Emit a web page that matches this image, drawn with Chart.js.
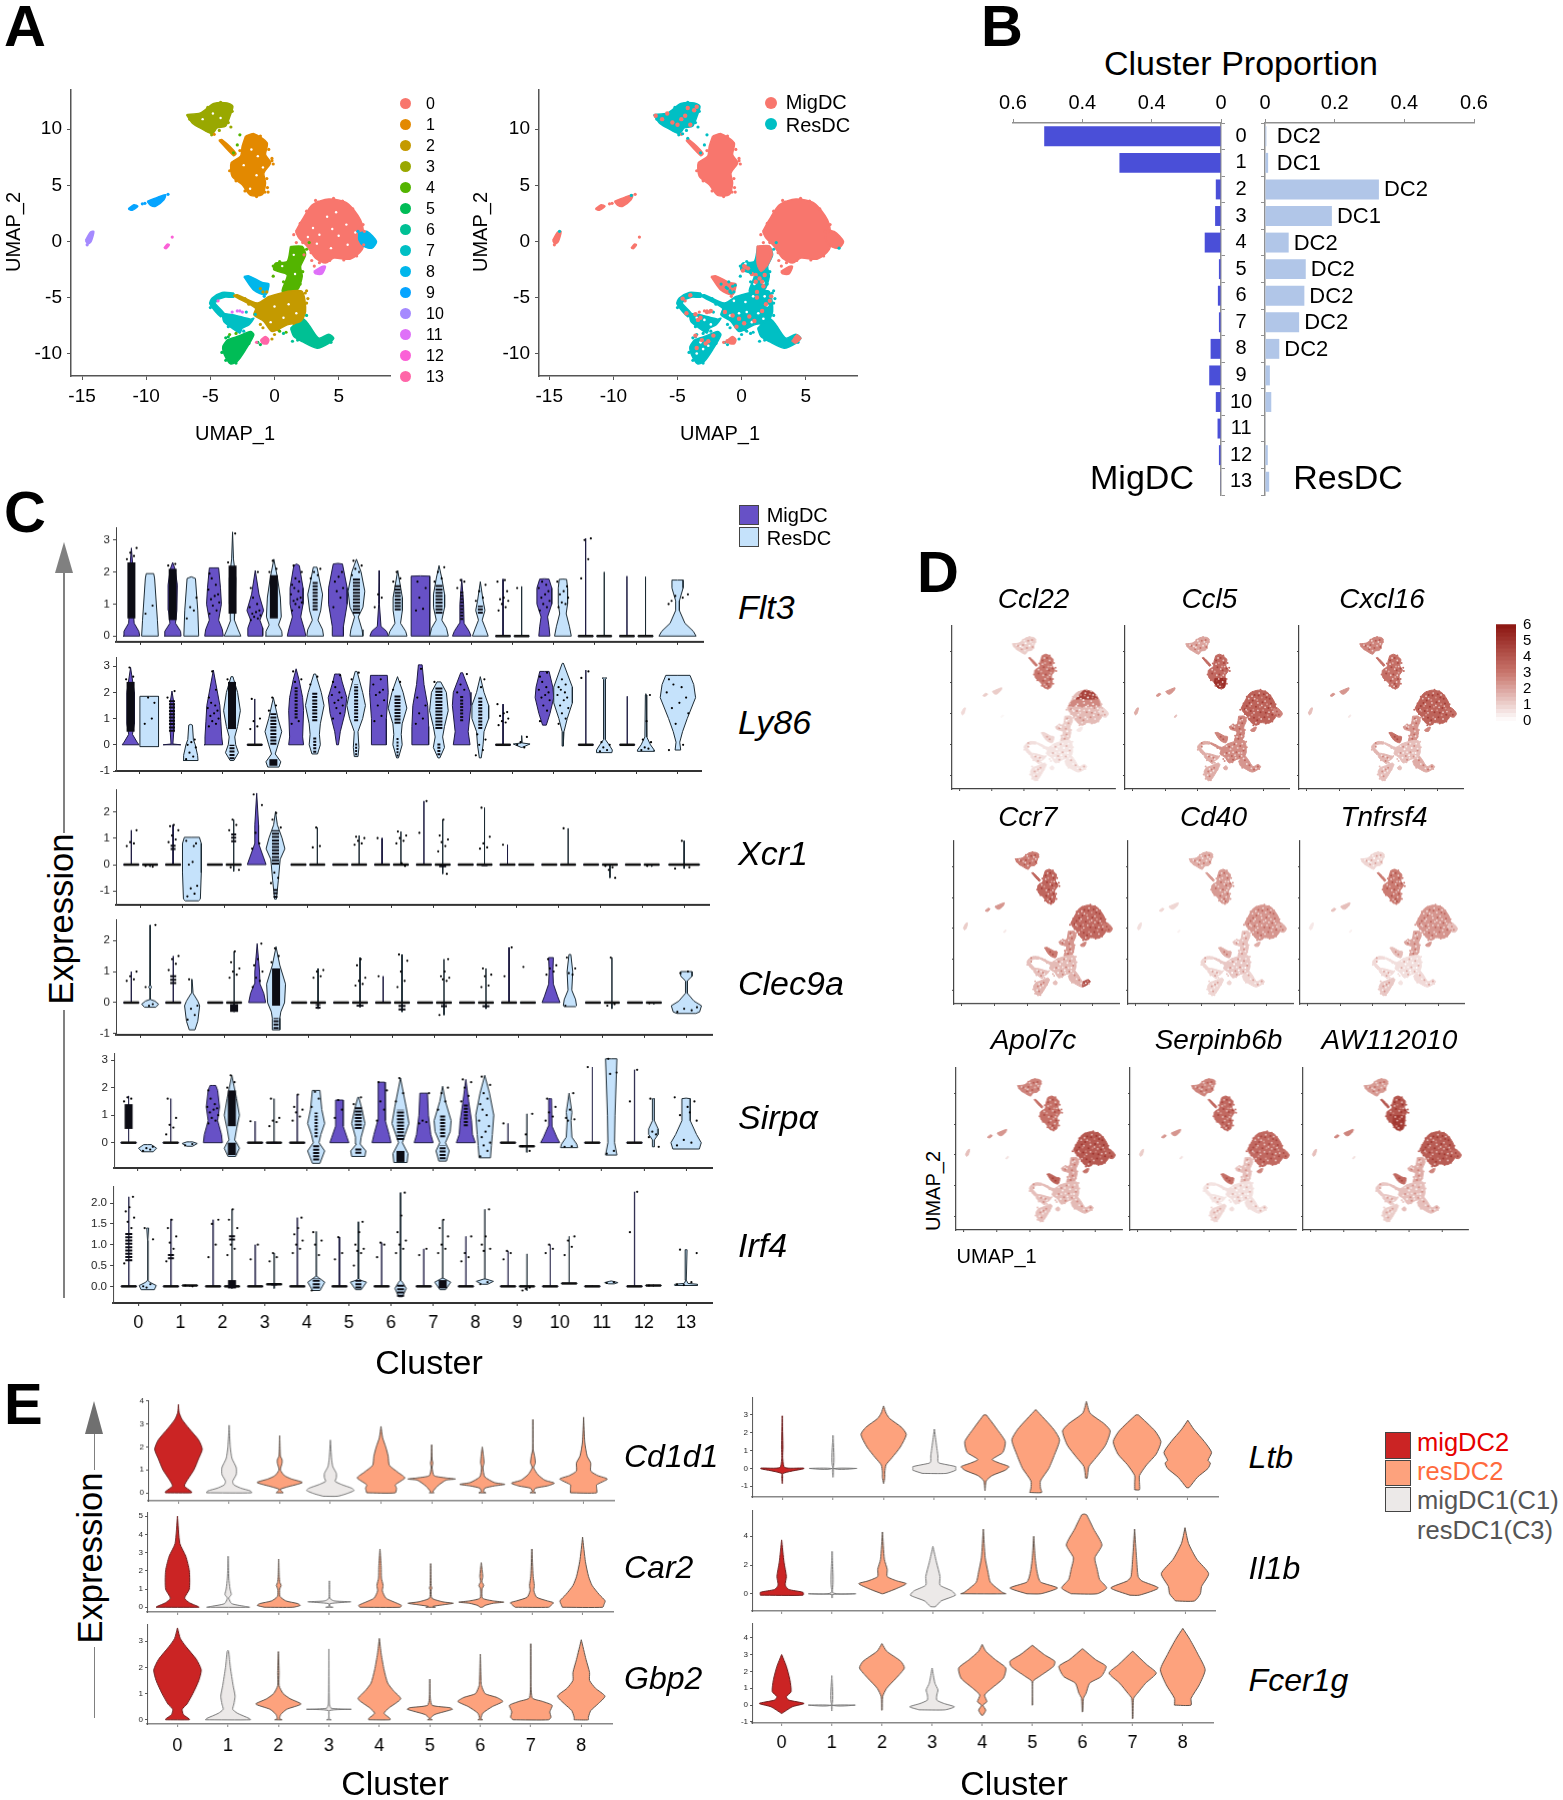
<!DOCTYPE html>
<html>
<head>
<meta charset="utf-8">
<title>DC clusters</title>
<script src="https://cdn.jsdelivr.net/npm/chart.js@4/dist/chart.umd.min.js"></script>
<style>
  html, body { margin: 0; background: #fff; }
  #page { position: relative; width: 1563px; height: 1800px; overflow: hidden; font-family: "Liberation Sans", Arial, sans-serif; color: #000; }
  #page canvas { position: absolute; }
  .t { position: absolute; white-space: nowrap; line-height: 1; }
  .d { position: absolute; }
</style>
</head>
<body>
<div id="page"></div>
<script>
// ---------- data: panel A / D, UMAP shapes (UMAP units) ----------
const clusterIds = [0,1,2,3,4,5,6,7,8,9,10,11,12,13];
const clusterColors = ['#F8766D','#E38900','#C49A00','#99A800','#53B400','#00BC56','#00C094','#00BFC4','#00B6EB','#06A4FF','#A58AFF','#DF70F8','#FB61D7','#FF66A8'];
const umapXTicks = [-15,-10,-5,0,5];
const umapYTicks = [-10,-5,0,5,10];

const shape0 = [1.64,.89,2.16,1.93,2.94,3.27,4.23,3.78,5.66,3.42,6.7,1.93,6.96,.45,6.83,-.74,5.92,-1.58,4.62,-1.49,3.97,-1.93,3.19,-1.49,2.55,-.45,1.9,.3];
const shape1 = [-2.26,9.38,-1.61,9.61,-.57,8.78,-.7,7.74,-.31,7,-.83,6.1,-.7,5.21,-.96,4.17,-1.87,4.11,-2.52,5.06,-3.3,5.8,-3.38,7,-2.65,7.59,-2.52,8.48];
const shape1Tail = [-4.34,9.02,-4.1,9.08,-3,7.85,-3.2,7.65];
const shape2 = [-.44,-4.91,.99,-4.46,2.16,-4.46,2.42,-6.25,2.03,-7.14,.99,-7.44,-.18,-8.04,-.83,-7.14,-1.61,-6.55,-1.48,-5.95,-3.17,-4.85,-2.91,-4.76,-1.35,-5.5];
const shape3 = [-6.86,11.3,-5.77,11.46,-4.73,12.29,-3.69,12.35,-3.25,12.05,-3.43,11.3,-3.82,10.27,-4.47,10.12,-4.86,9.6,-5.77,10.1,-6.42,10.57];
const shape4 = [1.25,-.45,2.16,-.45,2.42,-1.19,2.03,-2.23,2.16,-3.13,1.77,-4.32,.6,-4.46,.99,-2.98,-.05,-2.53,.08,-1.93,.99,-1.79];
const shape5 = [-3.69,-8.78,-2.91,-8.48,-1.87,-8.04,-1.61,-8.33,-2.26,-9.67,-2.91,-10.71,-3.43,-10.92,-3.9,-10.12,-4.03,-9.38];
const shape6 = [1.25,-7.74,2.16,-6.85,2.68,-7.44,3.45,-8.63,4.23,-8.27,4.62,-8.63,4.23,-9.08,3.32,-9.52,2.16,-8.93,1.51,-8.48];
const shape7Ring = [-3.17,-4.61,-4.08,-4.55,-4.86,-5.06,-5.04,-5.57,-4.21,-6.7,-3.9,-6.46,-4.6,-5.57,-4.6,-5.3,-3.9,-4.97,-3.17,-4.97];
const shape7 = [-4.08,-6.4,-3.17,-6.55,-1.87,-6.93,-1.61,-6.85,-2,-7.44,-2.52,-7.74,-2.7,-8.18,-3.3,-7.74,-3.95,-7.14];
const shape8Right = [6.57,.74,7.22,.89,7.95,0,7.6,-.6,6.96,-.45,6.57,.15];
const shape8Low = [-2.39,-3.13,-2,-3.07,-.96,-3.66,-.44,-3.78,-.7,-4.76,-1.61,-4.35];
const shape9 = [-9.92,3.57,-9.14,3.93,-8.49,4.17,-8.62,3.72,-9.27,3.13,-9.66,3.21];
const shape9Left = [-11.4,2.89,-10.96,3.27,-10.65,3.13,-11.09,2.77];
const shape10 = [-14.73,.09,-14.34,.83,-14.08,.89,-14.29,0,-14.55,-.24];
const shape11 = [3.06,-2.68,3.71,-2.23,3.97,-2.23,3.71,-2.89,3.19,-2.89];
const shape12 = [-8.62,-.6,-8.36,-.24,-8.2,-.3,-8.44,-.65];
const shape13 = [-1.09,-8.78,-.7,-8.48,-.44,-8.78,-.57,-9.14,-.96,-9.08];
const shapeOutlines = [shape7Ring,shape7,shape6,shape5,shape4,shape2,shape3,shape1,shape1Tail,shape0,shape8Right,shape8Low,shape9,shape9Left,shape10,shape11,shape12,shape13];
const shapeClusters = [7,7,6,5,4,2,3,1,1,0,8,8,9,9,10,11,12,13];

// stray cells per cluster
const strayCells = [
  [3.2,3.65,1.7,-.1,2.9,-1.7,2.3,-1.2,3.1,-2.2],
  [-4.7,9.55,-.75,4.4,-.5,4.4,-.2,7.2],
  [2.5,-4.4,2.6,-5.1,-.2,-8.7,0,-8.3,-.9,-4.5,-.6,-4.5,-1.1,-4.2],
  [-4.9,9.5,-3.4,10.2,-4.3,9.9],
  [-2.7,9.5,-2.9,8.6,-3.2,7.9,-3.5,-8.3,-3,-8.2,-.1,-3.1,.9,-8.1,.4,-8,2.7,-.1],
  [-1.3,-9,-1.1,-9.2,-3.6,-8.5],
  [1.4,-8.9,.7,-8.2,2.5,-6.6],
  [-1.5,-6.5,-4.5,-5.3,-2.2,-6.3],
  [6.5,.9,-.8,-4.9],
  [-10.3,3.35,-10.1,3.4,-8.3,4.2],
  [-14.6,-.3],
  [-2.9,-6.2,-2.7,-6.2,-2.5,-6.3,-3.3,-6.3],
  [-7.97,.39,-4.4,-5.3],
  [-1.4,-9]
];
// cells along the rough rim of the big clusters
const edgeCells = [
  [1.5,.6,2,1.6,2.5,2.7,3.4,3.5,4.6,3.85,5.3,3.6,6.1,2.9,6.9,1.5,7,.9,6.95,-.3,6.4,-1.3,5.4,-1.65,4.3,-1.7,3.5,-1.9,2.85,-1,2.2,-.1],
  [-2.7,8.1,-1.1,9.4,-.45,8.2,-.2,7.4,-.1,6.9,-.6,5.6,-.55,4.8,-1.4,4,-2.3,4.5,-3,5.4,-3.5,6.3],
  [-.9,-7.7,.3,-7.9,1.5,-7.3,2.5,-5.5,2.4,-4.6,-2.3,-5.1,-2,-5.6,-1.1,-7.4],
  [-6.6,10.9,-6.1,10.4,-5.2,9.9,-3.6,10.6,-3.3,11.6,-4.2,12.4,-5.2,11.95],
  [2.5,-.7,2.2,-2.7,2,-3.8,.7,-3.6,-.1,-2.2,.4,-1.8],
  [-4.1,-9.9,-3.8,-8.6,-2,-9.1,-3,-10.85,-3.8,-10.6],
  [2.7,-8,3,-9.2,1.8,-8.8,4.4,-9],
  [-5,-5.9,-4.5,-6.2,-3.6,-7.6,-2.4,-8],
  [],[],[],[],[],[]
];
// darker and paler cells inside the clusters
const darkSpots = [
  [2.5,1.2,3.1,.4,3.4,2.1,3.9,1.1,4.3,2.9,4.6,.2,4.9,1.8,5.2,-.6,5.5,2.6,5.8,.9,6.2,1.6,6.4,-.2,3.6,-.7,4.1,-1.1,2.9,1.7,5.1,3.1,3.7,3,6,2.4,2.2,.7,5.4,.1],
  [-2.2,8.6,-1.5,9,-1,8.2,-2,7.5,-1.2,7,-.6,7.3,-2.8,6.5,-1.7,6.3,-1,5.6,-1.5,4.8,-2.1,5.3,-1.3,4.4],
  [-.2,-5.4,.6,-5,1.5,-5.3,2,-6,.9,-6.3,.2,-6.9,1.4,-7,-.6,-6.4,.4,-7.5],
  [-6,11,-5.2,11.1,-4.4,11.8,-3.8,11.9,-4.6,10.6,-5.4,10.4,-3.7,10.8],
  [1.6,-.8,1.8,-1.6,1.4,-2.5,.4,-2.4,1.5,-3.4,1.2,-4.1],
  [-3.4,-9.4,-2.9,-9.1,-3.2,-10.2,-2.5,-8.8],
  [2.2,-7.6,2.9,-8.4,3.6,-9.1,4.2,-8.6],
  [-3.3,-7,-2.6,-7.2,-4.4,-5.4,-4.4,-4.8,-2.9,-7.7],
  [7.1,.3,7.4,-.2,-1.5,-3.8,-1.1,-4.2],
  [],[],[],[],[]
];
const paleSpots = [
  [3,1.2,3.5,.6,4.1,2.2,4.5,1.1,5,.5,5.6,1.5,5.7,-.3,4.4,-.6,3.3,-.2,4.8,2.6,6.3,.8,2.6,.4],
  [-1.8,8.2,-1.3,7.6,-2.4,6.8,-1.4,5.9,-1.9,4.7,-.9,6.6],
  [0,-5.8,1.1,-5.6,.7,-6.8,1.7,-6.4,-.3,-7.2],
  [-5.6,10.9,-4.8,11.4,-4.2,11],
  [1.5,-1.2,1.6,-2.9,.6,-2.2],
  [],[],[],[],[],[],[],[],[]
];
// near white cells for the expression maps
const lightSpots = [
  [2.4,.6,2.8,2.4,3.2,1.5,3.7,2.4,3.6,.1,4.2,1.7,4.2,.5,4.8,1.3,4.7,-.9,5.3,2,5.3,1,5.9,.2,6.1,1.2,5.9,-.9,3.3,2.8,4.4,3.3,5.6,3,2.9,-.6,3.9,-1.5,6.5,.3],
  [-1.9,9,-1.1,8.6,-2.2,8,-1.5,7.2,-.9,7.6,-2.8,7.1,-2.1,6.2,-1.1,6.2,-1.8,5.6,-1.2,5.1,-1.6,4.4],
  [-.6,-5.3,.3,-5.4,.9,-4.9,1.8,-4.9,2,-5.7,.4,-6.3,1.3,-6.4,-.9,-6.6,.8,-7.2,-.2,-6.4,1.7,-6.9],
  [-6.2,11.1,-5.3,10.7,-4.9,10.2,-4,11.6,-3.7,11.3,-5,11.8],
  [1.8,-1,1.3,-1.9,.3,-2,1.7,-3.7,1,-3.8],
  [-3.2,-9,-3,-9.6,-3.5,-10,-2.6,-9.3],
  [2,-7.3,2.5,-8.2,3.2,-8.9,3.9,-8.9],
  [-3.5,-6.8,-2.9,-7,-2.4,-7.4],
  [],[],[],[],[],[]
];
// MigDC / ResDC view
const clusterIsMig = [1,1,0,0,0,0,0,0,1,1,1,1,1,1];
const migPatches = [[1.2,-.4,2.2,-.4,2.4,-1.2,2,-2.2,1.5,-2.7,1.2,-2],[3.9,-8.9,4.3,-8.3,4.65,-8.65,4.2,-9.1]];
const migOnRes = [-6.7,11.2,-6.2,10.9,-5.8,11.4,-5,10.4,-4.7,10.9,-4.4,11.2,-4.2,11.9,-3.7,11.7,-3.5,12,-5.4,10.6,-4,10.4,-1.3,-6.3,-.7,-6.6,-.2,-6.9,.2,-7.3,.6,-6.7,1,-7.1,1.6,-6.2,1.9,-5.6,-.4,-7.6,1.2,-5,2.3,-4.9,-3.6,-8.4,-3.1,-8.8,-2.8,-9.1,-2.2,-8.4,-3.5,-9.5,-3.2,-6.8,-2.7,-6.3,-2.4,-6.2,-3.6,-6.5,-3.4,-7,-4.6,-5.1,-4,-4.8,-4.3,-6.4,-2.6,-8.9,-.8,-8.9,-1.1,-8.9,.3,-2.3,1.6,-3.6,2.2,-5.3,.2,-2.2,.5,-2.4,.1,-2.6,.8,-2.9,1.1,-3,1.4,-3.3,1.8,-3,1.1,-3.6,1.7,-4,1.2,-4.5];
const resOnMig = [-4.6,9.6,-4.2,9.2,7.6,-.6,-8.6,4.1,-14.2,.9,.7,-2.8,1.1,-3.2,-1.6,-3.8,-1.2,-4.1,-.9,-4.4,-.7,-4,-.5,-3.9,-1,-3.6,-.8,-4.6];

// ---------- data: panel B ----------
const migShare = [.51,.293,.015,.017,.047,.006,.009,.006,.03,.034,.015,.01,.006,.001];
const resShare = [.004,.009,.327,.192,.068,.117,.113,.098,.041,.014,.018,.001,.008,.012];
const resTypes = ['DC2','DC1','DC2','DC1','DC2','DC2','DC2','DC2','DC2','','','','',''];
const shareTicks = [0,.2,.4,.6];
const migShareLabels = ['0','0.4','0.4','0.6'];
const resShareLabels = ['0','0.2','0.4','0.6'];

// ---------- data: panel C, violins as y,width knots ----------
// s(top, bottom, flat): a thin spike with a flat bar where most cells sit
function s(top, bot = 0, flat = 0) {
  const k = [];
  if (bot < flat) k.push(bot,.01,flat-.001,.01);
  k.push(flat,.85,flat+.001,.01,top,0);
  k.flat = flat;
  return k;
}
const flt3Mig = [
  [0,.9,.15,.8,.4,.3,.6,.25,2,.2,2.75,0],[0,.9,.15,.85,.4,.3,.8,.45,1.6,.5,2.1,.25,2.3,0],[0,1,.2,.9,.5,.5,1,.8,1.5,.7,2.13,.5,2.13,0],[0,.8,.25,.8,.5,.5,.8,.9,1.3,.4,2.05,0],
  [0,1,.2,.85,.6,.45,1,.7,1.5,.7,2.2,.3,2.25,0],[0,.6,.3,.6,1,1,1.5,1,2.25,.5,2.27,0],[0,1,.15,.8,.3,.2,1,.05,2.05,0],[0,1,1,1,1.87,1,1.88,0],
  [0,1,.15,.8,.4,.25,1,.2,1.78,0],s(1.78),[0,.6,.3,.5,.6,.35,1,.8,1.5,.8,1.78,.5,1.79,0],s(3.05),s(1.87),null];
const flt3Res = [
  [0,.9,.5,.8,1.8,.5,1.95,.4,1.95,0],[0,.8,.8,.7,1.8,.45,1.85,0],[0,.9,.2,.6,.5,.2,.8,.25,1,.3,1.8,.35,2.4,.1,3.25,0],[0,.9,.15,.85,.35,.5,.6,.8,1.2,.7,1.8,.4,2.4,0],
  [0,.9,.2,.8,.5,.3,.8,.6,1.3,.8,1.7,.5,2.15,.2,2.15,0],[0,.7,.2,.6,.6,.2,.9,.7,1.4,.9,2,.5,2.4,0],[0,1,.15,.85,.4,.3,.8,.5,1.2,.5,2.05,0],[0,1,.25,.8,.5,.3,.9,.6,1.3,.6,1.8,.3,2.2,0],
  [0,.85,.2,.6,.5,.2,.8,.5,1.1,.3,1.7,0],s(1.55),[0,.9,.3,.7,.7,.35,1,.5,1.5,.5,1.77,.4,1.78,0],s(2),s(1.85),[0,1,.15,.85,.4,.4,.8,.1,1.1,.1,1.5,.3,1.75,.3,1.75,0]];
const flt3MigDots = [
  [[.55,2.3,8],2.4,2.5,2.6,2.75],[[.5,2.1,8],2.2,2.25],[.7,.8,.95,1.05,1.15,1.25,1.3,1.45,1.6,1.8,1.95],[.5,.55,.6,.65,.7,.75,.8,.9,1,1.2,1.5,2],
  [.8,.9,1,1.05,1.1,1.15,1.2,1.3,1.4,1.5,1.6,1.7,1.8,2,2.2],[.9,1.2,1.4,1.5,1.7,1.85,2],[.9,1.2,1.3],[.8,.85,1.2,1.5,1.7],
  [[.5,1.4,3],1.5,1.7,1.75],[.8,.9,1,1.1,1.15,1.2,1.4,1.7,1.75],[.8,.9,1,1.1,1.2,1.3,1.4,1.5,1.6,1.7],[1.8,2.4,3,3.05],[],null];
const flt3ResDots = [
  [.7,.95],[.55,.8,.9,1.2],[[.7,2.2,8],2.3,3.2],[[.55,1.9,8],2,2.1,2.35],[[.8,1.7,5],1.8,1.9,2,2.1],[[.7,1.8,7],1.9,2,2.1,2.2,2.35],[[.8,1.6,6],1.7,1.8,2],[[.7,1.6,7],1.7,1.8,2,2.15],
  [[.7,.95,5],1.1,1.2,1.4,1.6],[1.5],[.9,1,1.05,1.2,1.3,1.4,1.55,1.7],[],[],[1,1.2,1.25,1.3,1.1]];

const ly86Mig = [
  [0,.9,.1,.7,.4,.2,.8,.4,2,.4,2.95,0],[0,.95,.03,.1,.55,.2,1.6,.2,2.05,0],[0,1,.3,.9,.9,.8,1.5,.7,2.85,0],s(1.75),
  [0,.8,.3,.7,1.3,.8,1.8,.7,2.5,.3,2.9,0],[0,.1,.5,.3,1.2,.8,1.8,1,2.4,.5,2.7,.3,2.7,0],[0,.8,1,.8,2,1,2.65,.9,2.65,0],[0,.9,.7,.9,1.5,.8,2.3,.4,3.05,.2,3.05,0],
  [0,.9,.5,.7,1.5,1,2,.9,2.75,.1,2.75,0],s(1.55),[.75,.2,1.2,.6,1.8,1,2.2,.9,2.8,.5,2.8,0],s(2.85),s(1.85),null];
const ly86Res = [
  [-.07,1,1.85,1,1.85,0],[-.6,.8,-.4,.75,0,.5,.2,.3,.75,.2,.78,0],[-.6,.2,-.3,.7,0,.4,.3,.3,.7,.6,1.3,.9,2,.6,2.6,.1,2.6,0],[-.85,.6,-.65,.8,-.35,.2,0,.5,.5,.9,1,.5,1.8,0],
  [-.35,.3,0,.6,.4,.5,.8,.6,1.5,1,2,.7,2.7,.1,2.7,0],[-.45,.2,-.1,.3,.5,.2,1,.7,1.5,1,2,.7,2.8,.1,2.8,0],[-.5,.1,0,.5,.4,.4,.8,.5,1.4,1,2,.6,2.6,0],[-.5,.1,-.1,.6,.3,.4,.7,.6,1.3,1,2,.8,2.4,.2,2.4,0],
  [-.5,.1,0,.3,.5,.4,1,.9,1.5,.9,2,.4,2.6,0],[-.1,.05,.03,.9,.07,.05,.35,0],[-.05,.02,.5,.1,1,.45,1.6,1,2.2,1,3.1,.1,3.12,0],[-.3,.8,-.2,.85,0,.5,.2,.1,2.5,.1,2.55,.25,2.55,0],
  [-.25,.9,-.2,.9,0,.5,.3,.1,1.9,.05,1.95,0],[-.2,.15,.1,.1,.5,.25,1,.5,1.8,.95,2.3,.85,2.65,.65,2.65,0]];
const ly86MigDots = [
  [[.5,2.4,8],2.5,2.6,2.95],[[.5,1.7,6],1.8,2.05],[.7,.8,.9,1,1.1,1.2,1.3,1.4,1.5,1.6,1.8,2.1,2.8],[.6,.7,.9,1,1.75],[[1,2.2,3],.8,.9,2.4,2.5,2.8],[1,1.2,1.4,1.5,1.6,1.7,1.8,1.9,2,2.2,2.4,2.65],[.9,1.1,1.5,1.7,1.9,2,2.1,2.3,2.5],[.8,1,1.2,1.5,1.8,2.9],
  [[.9,1.9,3],2,2.1,2.3,2.7],[.75,.85,.9,1,1.1,1.2,1.25,1.55],[.9,1.3,1.5,1.7,1.8,1.9,2,2.1,2.2,2.4,2.6,2.75],[2.55,2.8],[],null];
const ly86ResDots = [
  [.8,1,1.8,1.6],[-.55,-.45,-.3,-.1,0,.1,.2],[[.6,2.4,8],[-.55,0,5],2.5],[[-.8,-.55,8],[0,1.2,6],1.3,1.5,1.8],[[.9,2,5],[-.3,.3,3],2.3,2.6],[[.9,2.3,4],[-.4,.1,2],2.5,2.75],[[.8,1.9,6],[-.45,.3,2],2.1,2.4],[[.6,2.2,7],[-.4,.1,3],2.4],
  [[.6,1.8,4],-.4,-.2,0,.2,.4,2.2,2.5],[0,-.1,.1,.3],[.8,1,1.2,1.4,1.5,1.7,1.8,1.9,2,2.1,2.2,2.3,2.5],[-.25,-.2,-.1,0,.1],[-.2,-.15,-.1,.1,.2,.9,1.9],[-.2,0,.8,1.2,1.4,1.6,1.8,2,2.2,2.3,2.5]];

const xcr1Mig = [s(1.3),s(1.5),s(.03),[0,1,.3,.7,.8,.2,1.5,.2,2.7,0],s(.03),s(.03),s(1),s(2.4),s(.03),s(.75),s(.03),s(.03),s(.03),null];
const xcr1Res = [
  s(.03,-.08),[-1.37,.7,-1.3,.9,-.3,1,.8,1,1.03,.8,1.03,0],s(1.7,-.25),[-1.3,.1,-.6,.3,.2,.5,.6,1,1,.7,1.5,.2,2,0],s(1.4),s(1.1),s(1.25),s(1.7,-.35),
  s(2.15),s(.03),s(1.37),s(.03,-.5),s(.03,-.08),s(.9,-.15)];
const xcr1MigDots = [[.7,.8,.85,1.3],[[.55,.75,5],.85,.95,1.1,1.3,1.45,1.5],[],[.6,.8,1.2,2.25,2.65],[],[],[1],[1.2,2.4],[],[.75],[],[],[],null];
const xcr1ResDots = [[-.05,-.08],[-1.2,-1.1,-.9,-.8,0,.1,.8,.9,.7],[[.85,1.2,5],1.3,1.5,1.7,-.2,-.1],[[0,1.3,7],[-1.25,-.9,4],-.7,-.5,-.3,1.4,1.7,1.95],[.65,.7,1.4],[.75,.8,.9,1,1.05],[.8,.9,1,1.1,1.25,.05,-.05],[[-.1,-.02,7],.5,.7,.85,.95,1.1,1.7,-.35],
  [[-.06,-.02,6],.6,.65,.8,1.05,2.15],[],[1.37],[-.05,-.1,-.2,-.5],[-.05],[-.15,-.1,.9]];

const clec9aMig = [s(1),s(1.5),s(.03),[0,.9,.3,.7,.6,.3,1,.25,1.9,0],s(.03),s(.03),s(.85),s(.03),s(.03),s(1.78),[0,.95,.2,.7,.6,.25,1,.2,1.45,.25,1.45,0],s(.03),s(.03),null];
const clec9aRes = [
  [-.15,.6,-.05,.9,.05,.5,.1,.02,.45,.02,.5,.2,.55,.02,2.5,0],[-.88,.3,-.6,.6,-.1,.8,.05,.6,.3,.1,.75,.05,.75,0],s(1.65,-.3),[-.88,.4,-.5,.4,-.3,.5,0,.9,.6,1,1.2,.4,1.8,0],
  s(1.1,-.2),s(1.45,-.15),s(1.55,-.3),s(1.4,-.4),s(1.1,-.2),s(.03),[-.13,.6,-.1,.7,.1,.6,.4,.2,1,.3,1.55,.1,1.55,0],s(1.45,-.2),s(.03,-.05),[-.35,.5,-.3,.7,-.1,.8,.05,.4,.3,.05,.7,.05,.85,.3,1,.3,1,0]];
const clec9aMigDots = [[.7,.75,.85,1],[[.6,.9,6],1.05,1.25,1.4,1.5],[],[.5,.7,.8,1,1.2,1.4,1.9],[],[],[.85],[],[],[.85,1.78],[.9,1,1.1,1.2,1.4],[],[],null];
const clec9aResDots = [[.5,-.05,-.1,2.5],[-.55,-.4,-.2,-.1,.75],[[-.3,-.05,8],.8,.9,1,1.1,1.3,1.65],[[-.85,-.5,5],[-.1,1.1,8],1.3,1.5,1.75],[[-.2,-.05,5],.8,.85,1,1.05],[[-.13,-.07,7],.55,.6,.7,.8,1.2,1.4],[[-.25,-.05,7],.5,.7,1,1.35,1.55],[[-.15,-.02,6],-.4,.7,.75,.8,.85,1,1.4],
  [[-.15,-.05,7],.5,.55,.85,.9,1.1],[1.15],[-.1,.9,.95,1.1,1.45],[-.1,-.05,1.45],[-.02],[-.3,-.25,-.2,-.15,.95,1]];

const sirpaMig = [s(1.7),s(1.6),[0,1,.3,.9,.8,.5,1.3,.7,1.9,.5,2.08,.3,2.08,0],s(.78),s(1.75),[0,1,.2,.8,.6,.4,1.55,.4,1.55,0],[0,1,.3,.8,.8,.4,2.2,.35,2.2,0],[0,1,.3,.75,1,.5,1.8,.4,1.8,0],
  [0,1,.3,.7,.8,.6,1.5,.3,2.3,0],s(.7),[0,1,.2,.7,.6,.2,1.6,.15,1.6,0],s(2.75),s(2.65),null];
const sirpaRes = [
  [-.33,.6,-.2,.95,-.07,.4,-.07,0],[-.13,.3,-.03,.8,.03,.3,.03,0],[-.5,.4,-.2,.8,0,.5,.1,.3,.5,.5,1,.8,1.6,.5,2.45,0],s(1.6),
  [-.75,.4,-.3,.9,0,.3,.3,.5,.7,.9,1.2,.6,1.9,.4,1.9,0],[-.5,.7,-.3,.8,-.05,.2,.2,.3,.7,.7,1.2,.4,1.65,.05,1.65,0],[-.72,.7,-.4,.8,0,.2,.3,.5,.7,.9,1.3,.6,2.35,0],[-.67,.4,-.3,.7,0,.3,.4,.8,.8,.9,1.5,.3,2.05,0],
  [-.55,.6,-.1,.7,.3,.8,1,.95,1.8,.5,2.45,0],s(1.05,-.35,-.13),[-.18,.9,-.05,.8,.2,.3,.8,.2,1.1,.3,1.8,0],[-.45,.6,0,.35,1,.4,3.05,.6,3.05,0],[-.15,.1,.1,.1,.3,.5,.5,.5,.8,.1,1.6,.1,1.6,0],[-.23,.7,0,.8,.3,.55,.8,.22,1.6,.22,1.62,0]];
const sirpaMigDots = [[[.5,1.4,8],1.5,1.6,1.65],[.3,.55,.65,.9,1.6],[.7,.8,.9,1,1.1,1.2,1.25,1.3,1.4,1.6,1.9],[.78],[.8,.95,1.1,1.2,1.3,1.75],[.9,1.2,1.55],[.8,1.2,1.5,1.9,2.2],[.7,.75,.8,1.8],
  [[.6,1.4,4],1.5,1.7,2,2.2,2.3],[.7],[.8,.95,1.1,1.3,1.6],[2.75],[1.5,2.65],null];
const sirpaResDots = [[-.3,-.25,-.2,-.15],[-.1,-.05],[[-.45,0,8],[.6,1.9,8],2,2.2,2.45],[[-.03,.03,7],.6,.75,.8,.9,1.6],[[-.65,-.05,6],[.2,1.1,3],1.3,1.6,1.85],[[-.4,-.2,6],[.5,1.3,7],1.4,1.65],[[-.7,-.3,8],[.1,1.2,7],1.5,1.8,2.35],[[-.6,-.1,6],[.2,1,5],1.2,1.5,1.8,2],
  [-.5,-.3,-.1,0,.2,.4,.6,.8,1,1.2,1.4,1.6,1.8,2.1,2.4],[-.13,-.3,.3,1.05],[-.15,-.13,.8,.85,.9,1.2,1.8],[-.4,-.3,2.5,2.55,3.05],[.2,.3,.4,-.15,1.6],[-.1,0,.1,.8,1,1.3,1.5,1.65,1.1]];

const irf4Mig = [s(2.15),s(1.62),s(1.6),s(1),s(1.65),s(1.18),s(1.05),s(.9),s(1.2),s(.85),s(1),s(.02),s(2.27),null];
const irf4Res = [
  [-.08,.7,.02,.9,.1,.2,.15,.01,1.1,.01,1.4,.1,1.4,0],s(.03,0,.02),s(1.85,-.05),s(.8,-.05,.05),[-.1,.4,.1,.9,.2,.3,.25,.01,1.32,0],[-.08,.3,.1,.85,.15,.2,.2,.01,1.55,0],[-.25,.2,-.05,.6,.1,.2,.15,.01,2.25,0],[-.08,.3,.1,.85,.18,.2,.2,.01,1.6,0],
  [.05,.3,.12,.9,.17,.2,.18,.01,1.85,0],s(.78,-.1),s(1.2,.06,.07),[.06,.3,.09,.7,.12,.2,.13,0],s(.04,0,.02),[.02,.6,.05,.6,.07,.1,.15,.01,.88,.05,.88,0]];
const irf4MigDots = [[[.6,1.3,7],.55,1.4,1.55,1.65,1.8,1.9,2.15],[[.65,.8,6],.6,.9,1.05,1.2,1.4,1.6],[.7,1,1.5,1.6],[.65,1],[.8,.9,1,1.1,1.25,1.4,1.65],[.65,.8,1.18],[.7,1,1.05],[.75,.9],[.6,.7,.8,1.2],[.65,.8,.85],[.8,.9,1],[],[1.3,2.27],null];
const irf4ResDots = [[0,.05,-.03,1.13,1.4],[.02,0],[[-.05,.15,8],[1.1,1.25,6],.75,.9,1,1.4,1.6,1.85],[[.02,.08,6],.6,.7,.8],[[-.05,.2,7],-.1,.75,1,1.1,1.3],[[-.05,.15,6],.5,.8,.85,.9,1,1.3,1.55],[[-.25,.05,7],.8,.9,1,1.1,1.3,1.7,2.25],[[-.05,.15,8],.8,.9,1,1.2,1.4,1.6],
  [.05,.1,.85,.9,1,1.2,1.85],[-.1,-.03,-.06],[.75,.95,1.1,1.2],[.08,.1],[.02],[.05,.1,.03,.8,.88]];

// ---------- data: panel D, mean expression per cluster ----------
const ccl22Expr   = [1.5,3,.6,1.1,1.1,.7,.6,.7,.9,1.1,.8,.5,.2,.5];
const ccl5Expr    = [3.6,3.4,2.5,2,2.7,1.8,2.3,1.8,2.7,2.3,1.8,2.7,1.4,1.8];
const cxcl16Expr  = [3.6,3.2,1.4,2.7,2.3,1.4,1.8,1.6,3.2,2.3,1.4,2.7,.5,1.4];
const ccr7Expr    = [3.4,3.5,1.5,2.9,2.3,1.6,1.6,1.4,2.9,2.3,1.1,2.7,.5,1.4];
const cd40Expr    = [2.3,2.2,1.2,1.8,1.3,.9,.9,.9,1.8,.9,.7,1.8,.3,.9];
const tnfrsf4Expr = [2.3,2.9,.7,.9,2,1.2,.8,.8,1.4,1.4,.5,2.3,.3,.6];
const apol7cExpr  = [3.9,3.2,1.5,2.7,2,1.4,1.5,1.4,3.6,2.3,1.4,3.2,.7,1.4];
const serpinExpr  = [3.4,3.4,.7,2.7,1.4,.9,.7,.6,3.2,2.3,1.1,2.7,.7,.7];
const aw112Expr   = [3.8,4,1.4,2.2,1.8,1.1,1.4,1.2,3.4,2.7,1.4,2.7,.7,1.4];
const hotCcl22 = [[1.8,1.2,6.6,1.2,6.3,2.5,3,2.4,2.2,1.9,2.6],[2.9,2.3,4.2,3.78,5.66,3.42,6.3,2.4,4.6]];
const hotCcl5 = [[-2.4,5.7,-.7,5.7,-.7,5.2,-.96,4.17,-1.87,4.11,-2.5,5,5.2]];
const hotCcr7 = [[3.5,-8.6,4.3,-8.3,4.6,-8.6,4.2,-9.1,3.4,-9.5,4.2]];
const hotAw112 = [[-2.4,6.4,-.6,6.4,-.7,5.2,-.96,4.17,-1.87,4.11,-2.5,5,4.8]];
const colorLevels = [0,.25,.5,.75,1,1.25,1.5,1.75,2,2.25,2.5,2.75,3,3.25,3.5,3.75,4,4.25,4.5,4.75,5,5.25,5.5,5.75];
const colorTicks = [0,1,2,3,4,5,6];

// ---------- data: panel E ----------
const eClusters = [0,1,2,3,4,5,6,7,8];
const cd1d1 = [
  [0,.55,.05,.55,.3,.25,.6,.4,1,.65,1.5,.85,1.9,1,2.3,.85,2.8,.45,3.2,.15,3.5,.03,3.85,0],[0,.95,.08,.9,.2,.5,.35,.2,.5,.15,.8,.3,1.1,.3,1.5,.12,2,.05,2.95,0],[0,.15,.05,.1,.15,.02,.25,.3,.45,.95,.6,.5,.75,.2,1,.03,1.3,.1,1.45,.1,1.6,.03,2.5,0],
  [-.15,.3,-.05,.65,.1,1,.2,.9,.35,.5,.5,.2,.65,.25,.85,.25,1.15,.1,1.5,.05,2.3,0],[0,.6,.2,.65,.35,.6,.65,1,.9,.7,1.2,.35,1.6,.3,2,.2,2.4,.07,2.9,0],[0,.1,.05,.05,.3,.25,.55,.6,.6,1,.65,.6,.75,.1,1.1,.02,1.3,.05,1.45,.02,2.1,0],
  [0,.15,.05,.05,.2,.1,.3,.5,.37,.95,.45,.5,.7,.1,1.1,.03,1.3,.07,1.6,.05,2,0],[0,.12,.05,.03,.2,.1,.3,.6,.42,.9,.55,.5,.8,.2,1.1,.03,1.3,.1,1.6,.07,1.9,.01,3.2,0],[0,.55,.2,.55,.35,.55,.6,1,.75,.6,.95,.3,1.3,.3,1.6,.15,2.2,.05,3.3,0]];
const car2 = [
  [0,.9,.05,.85,.25,.5,.5,.3,1,.5,2,.5,2.8,.35,3.5,.1,5,0],[0,.9,.05,.7,.2,.15,.5,.03,.7,.13,1,.08,1.6,.03,2.8,0],[0,.6,.1,.9,.2,.8,.35,.3,.6,.05,1,.04,1.2,.1,1.35,.05,1.7,.02,2.65,0],
  [0,.15,.03,.03,.2,.03,.3,.9,.35,.2,.5,.02,1.45,0],[0,.85,.1,.9,.2,.75,.5,.25,.9,.1,1.2,.13,1.6,.06,2.2,.05,3.2,0],[0,.2,.05,.1,.15,.6,.22,.95,.3,.5,.5,.05,.95,.02,1.05,.05,1.2,.02,2.4,0],
  [0,.05,.1,.15,.22,.5,.28,.95,.35,.5,.5,.05,1,.03,1.2,.1,1.4,.03,1.7,.06,2.45,0],[0,.7,.1,.8,.25,.9,.35,.65,.55,.2,.9,.08,1.2,.1,1.7,.05,3.2,0],[0,.85,.15,.9,.35,.95,.7,.7,1.2,.4,1.7,.25,2.5,.12,3.85,0]];
const gbp2 = [
  [0,.5,.03,.5,.2,.25,.4,.2,.6,.4,1,.65,1.5,.9,1.9,1,2.3,.8,2.8,.35,3.1,.12,3.5,0],[0,.95,.05,.9,.25,.4,.4,.2,.6,.25,.9,.3,1.3,.22,2,.1,2.6,.03,2.65,0],[0,.15,.05,.05,.2,.1,.4,.35,.6,.95,.8,.5,1,.2,1.3,.03,1.8,.03,2.6,0],
  [0,.1,.02,.02,.35,.02,.4,.95,.44,.1,.6,.02,2.7,0],[0,.45,.05,.45,.25,.2,.45,.4,.8,.9,1.1,.6,1.4,.35,1.9,.2,2.5,.08,3.1,0],[0,.1,.05,.02,.2,.2,.4,.95,.46,.85,.55,.1,.8,.02,1.55,0],
  [0,.1,.05,.03,.25,.1,.5,.5,.7,.95,.85,.7,1,.2,1.3,.05,1.5,.03,2.5,0],[0,.75,.1,.85,.3,.8,.55,.9,.7,.5,.85,.05,2.9,0],[0,.3,.1,.3,.35,.4,.6,.7,.9,1,1.2,.6,1.5,.35,1.8,.35,2.3,.2,3.05,0]];
const ltb = [
  [-.85,0,-.3,.01,-.02,.9,.02,.9,.05,.1,.6,.02,1.2,.03,2.95,0],[-.5,0,-.02,.01,0,1,.02,.01,1.85,0],[-.85,0,-.5,.05,-.2,.05,.2,.1,.6,.35,1.2,.7,1.9,.95,2.3,.75,2.8,.25,3.1,.1,3.5,0],
  [-.28,.5,-.1,.9,0,.9,.1,.9,.3,.2,.4,.15,.7,.15,1,.12,1.6,.06,2.2,0],[-1.25,0,-.7,.05,-.4,.3,-.1,.85,.1,1,.3,.6,.5,.3,.9,.75,1.5,.85,2.2,.5,3,.05,3,0],[-1.35,.25,-1.1,.2,-.7,.2,0,.55,.8,.8,1.6,1,2.2,.75,3.3,0],
  [-.55,.03,.1,.1,.6,.4,1.3,.8,2.1,1,2.5,.75,3.1,.15,3.75,0],[-1.2,.1,-.8,.1,-.4,.1,.2,.4,.8,.8,1.5,1,2.1,.75,3,.05,3,0],[-1.08,.05,-.5,.4,0,.85,.3,.95,.45,.85,.9,1,1.5,.7,2.2,.25,2.7,0]];
const il1b = [
  [-.1,.9,.1,.9,.3,.3,.6,.15,1.2,.2,2.2,.1,3.75,0],[-.3,0,-.05,.02,0,1,.1,.02,2.95,0],[0,.02,.3,.5,.7,1,.9,.6,1.2,.2,1.7,.2,2.4,.08,4.3,0],
  [-.9,.1,-.5,.35,-.1,.95,.2,.8,.6,.3,1.2,.3,2.2,.15,3.3,0],[0,.95,.1,.8,.8,.3,1.5,.2,2.5,.08,4.5,0],[0,.3,.4,1,.8,.3,1.1,.2,1.7,.12,2.5,.06,4,0],
  [0,.55,.4,.95,1,.65,1.7,.55,2.5,.45,3.4,.75,4.5,.4,5.5,.1,5.55,0],[-.1,.2,.4,1,.9,.3,1.2,.15,2.5,.08,4.5,0],[-.5,.4,0,.65,.5,.7,1.4,1,2.4,.5,3.5,.15,4.6,0]];
const fcer1g = [
  [-.5,0,-.1,.45,.1,.95,.3,.3,.5,.2,.8,.4,1.5,.35,2.3,.2,3,0],[-.35,0,-.02,.01,0,1,.02,.01,1.75,0],[-.3,.01,.5,.03,1,.2,1.6,.6,2.2,.95,2.6,.8,3.2,.2,3.65,0],
  [-.28,.55,-.1,.95,.1,.5,.3,.2,.6,.2,.9,.25,1.3,.12,2.2,0],[-.6,.03,-.3,.15,0,.03,.2,.2,.6,.1,1,.4,1.6,.9,2.2,1,2.7,.55,3.2,.15,3.6,0],[0,.01,1.4,.02,1.7,.3,2.3,.9,2.6,.95,3,.5,3.55,0],
  [-.4,.01,.4,.04,.7,.15,1.3,.3,1.7,.8,2.3,1,2.7,.55,3.35,0],[-.8,.01,.4,.04,.7,.2,1.3,.55,1.9,1,2.4,.6,3.2,0],[0,.35,.4,.35,1.2,.7,2.1,.95,3,.65,3.9,.3,4.55,0]];

// ---------- helpers ----------
Chart.defaults.font.family = '"Liberation Sans", Arial, sans-serif';
const page = document.getElementById('page');
const pairs = a => { const o = []; for (let i = 0; i + 1 < a.length; i += 2) o.push({x: a[i], y: a[i+1]}); return o; };

function txt(s, x, y, size, o = {}) {
  const e = document.createElement('div');
  e.className = 't';
  e.textContent = s;
  e.style.left = x + 'px';
  e.style.top = y + 'px';
  e.style.fontSize = size + 'px';
  if (o.bold) e.style.fontWeight = 'bold';
  if (o.italic) e.style.fontStyle = 'italic';
  if (o.color) e.style.color = o.color;
  const ax = o.left ? '0' : '-50%';
  e.style.transform = `translate(${ax},-50%)` + (o.rot ? ` rotate(${o.rot}deg)` : '');
  page.appendChild(e);
}
function rect(l, t, w, h, style) {
  const e = document.createElement('div');
  e.className = 'd';
  e.style.cssText += `left:${l}px;top:${t}px;width:${w}px;height:${h}px;` + (style || '');
  page.appendChild(e);
}
function arrow(x, tip, base, halfW, col) {
  rect(x - halfW, tip, 0, 0, `border-left:${halfW}px solid transparent;border-right:${halfW}px solid transparent;border-bottom:${base - tip}px solid ${col};`);
}

function axis(o) {
  return {
    type: 'linear', min: o.min, max: o.max, position: o.pos, reverse: !!o.reverse,
    afterBuildTicks: s => { s.ticks = o.ticks.map(v => ({value: v})); },
    afterFit: s => { if (s.isHorizontal()) s.height = o.fit; else s.width = o.fit; },
    border: {display: true, color: o.color || '#555', width: o.bw || 1.5},
    grid: {drawOnChartArea: false, drawTicks: true, tickLength: o.tl || 4, color: o.color || '#555', tickWidth: 1},
    ticks: {display: !!o.labels, autoSkip: false, maxRotation: 0, font: {size: o.size || 12}, color: o.tickColor || '#000', padding: o.pad || 3,
      callback: (v, i) => o.labels ? o.labels[i] : ''}
  };
}
function addCanvas(l, t, w, h) {
  const c = document.createElement('canvas');
  c.width = w; c.height = h;
  c.style.left = l + 'px'; c.style.top = t + 'px';
  c.style.width = w + 'px'; c.style.height = h + 'px';
  page.appendChild(c);
  return c;
}
const baseOpts = {responsive: false, animation: false, events: [], devicePixelRatio: 1, plugins: {legend: {display: false}, tooltip: {enabled: false}}};

// box = plot area in page pixels; padL / padB hold the axes.
// the spare margins are there so chart.js does not shrink the area for half a tick label
function plot(box, x, y, padL, padB, datasets) {
  const padT = 24, padR = 30, spare = 24;
  const c = addCanvas(box.l - padL, box.t - padT, box.r - box.l + padL + padR, box.b - box.t + padT + padB + spare);
  return new Chart(c, {
    type: 'scatter',
    data: {datasets: datasets.slice().reverse()},   // first dataset paints on top, so flip
    options: {...baseOpts, layout: {padding: {top: padT, right: padR, left: 0, bottom: spare}}, scales: {x, y}}
  });
}
function poly(pts, fillC, strokeC, bw, tension = 0) {
  return {data: pts.concat([pts[0]]), showLine: true, fill: 'shape', backgroundColor: fillC, borderColor: strokeC, borderWidth: bw, pointRadius: 0, tension};
}
function dots(pts, col, r) {
  return {data: pts, showLine: false, pointRadius: r, pointBackgroundColor: col, backgroundColor: col, pointBorderWidth: 0, borderWidth: 0};
}
function segment(a, b, col, w, dash) {
  return {data: [a, b], showLine: true, fill: false, borderColor: col, borderWidth: w, pointRadius: 0, borderCapStyle: 'butt', borderDash: dash || []};
}
function violinPts(cx, knots, hw) {
  const left = [], right = [];
  for (let i = 0; i < knots.length; i += 2) {
    left.push({x: cx - knots[i+1] * hw, y: knots[i]});
    right.unshift({x: cx + knots[i+1] * hw, y: knots[i]});
  }
  return left.concat(right);
}
function hexMix(a, b, t) {
  const p = h => [1,3,5].map(i => parseInt(h.substr(i,2),16));
  const A = p(a), B = p(b);
  return 'rgb(' + A.map((v,i) => Math.round(v + (B[i]-v)*t)).join(',') + ')';
}
function expColor(v) {
  v = Math.max(0, Math.min(6, v));
  return v < 3 ? hexMix('#ffffff', '#c9766d', v/3) : hexMix('#c9766d', '#8b1510', (v-3)/3);
}

// ---------- panel letters ----------
txt('A', 4, 26, 58, {bold: true, left: true});
txt('B', 981, 26, 58, {bold: true, left: true});
txt('C', 4, 512, 58, {bold: true, left: true});
txt('D', 917, 572, 58, {bold: true, left: true});
txt('E', 4, 1404, 58, {bold: true, left: true});

// ---------- panel A ----------
function umapShapesDs(colorOf) {
  return shapeOutlines.map((s, i) => poly(pairs(s), colorOf(shapeClusters[i]), colorOf(shapeClusters[i]), 1.5, .25));
}
const umapLabelsX = umapXTicks.map(String), umapLabelsY = umapYTicks.map(String);
function umapAxes(xMin, xMax) {
  return [
    axis({min: xMin, max: xMax, ticks: umapXTicks, labels: umapLabelsX, size: 19, fit: 40, pad: 5, pos: 'bottom', color: '#555', tl: 4}),
    axis({min: -12, max: 13.5, ticks: umapYTicks, labels: umapLabelsY, size: 19, fit: 60, pad: 5, pos: 'left', color: '#555', tl: 4})
  ];
}
{
  const ds = umapShapesDs(c => clusterColors[c]);
  edgeCells.forEach((p, c) => ds.push(dots(pairs(p), clusterColors[c], 1.6)));
  paleSpots.forEach(p => ds.push(dots(pairs(p), '#ffffff', 1.2)));
  strayCells.forEach((p, c) => ds.push(dots(pairs(p), clusterColors[c], 1.6)));
  const [x, y] = umapAxes(-15.86, 9);
  plot({l: 71, r: 390, t: 90, b: 376}, x, y, 60, 40, ds);
  clusterIds.forEach((c, i) => {
    const cy = 103.3 + i * 21;
    rect(399.5, cy - 5.5, 11, 11, `border-radius:50%;background:${clusterColors[c]};`);
    txt(String(c), 426, cy + .5, 16, {left: true});
  });
  txt('UMAP_1', 235, 432.7, 20);
  txt('UMAP_2', 12.7, 231.7, 20, {rot: -90});
}
{
  const mig = '#F8766D', res = '#00BFC4';
  const ds = umapShapesDs(c => clusterIsMig[c] ? mig : res);
  edgeCells.forEach((p, c) => ds.push(dots(pairs(p), clusterIsMig[c] ? mig : res, 1.6)));
  // res clusters are loose in this view, so let the background show through
  [2,4,5,7].forEach(c => ds.push(dots(pairs(lightSpots[c]), '#ffffff', 1.3)));
  migPatches.forEach(p => ds.push(poly(pairs(p), mig, mig, 1, .25)));
  strayCells.forEach((p, c) => ds.push(dots(pairs(p), clusterIsMig[c] ? mig : res, 1.6)));
  ds.push(dots(pairs(migOnRes), mig, 2.2));
  ds.push(dots(pairs(resOnMig), res, 1.6));
  const [x, y] = umapAxes(-15.8, 9);
  plot({l: 539, r: 857, t: 90, b: 376}, x, y, 60, 40, ds);
  rect(765, 96.7, 12, 12, `border-radius:50%;background:${mig};`);
  rect(765, 118, 12, 12, `border-radius:50%;background:${res};`);
  txt('MigDC', 785.7, 102, 20, {left: true});
  txt('ResDC', 785.7, 124.5, 20, {left: true});
  txt('UMAP_1', 720, 432.7, 20);
  txt('UMAP_2', 480, 231.7, 20, {rot: -90});
}

// ---------- panel B ----------
const clusterLabels = clusterIds.map(String);
{
  const y = {type: 'category', position: 'right', offset: true,
    afterFit: s => { s.width = 31; },
    border: {display: true, color: '#909090', width: 1.5},
    grid: {offset: true, drawOnChartArea: false, tickLength: 4, color: '#909090'},
    ticks: {font: {size: 20}, color: '#000', padding: 5, crossAlign: 'center', autoSkip: false}};
  const c = addCanvas(993, 89, 259, 430);
  new Chart(c, {
    type: 'bar',
    data: {labels: clusterLabels, datasets: [{data: migShare, backgroundColor: '#4a4fd8', barPercentage: .75, categoryPercentage: 1}]},
    options: {...baseOpts, indexAxis: 'y', layout: {padding: {left: 20, right: 0, top: 0, bottom: 24}},
      scales: {x: axis({min: 0, max: .6, reverse: true, ticks: shareTicks, labels: migShareLabels, size: 20, fit: 34, pad: 4, pos: 'top', color: '#909090', tl: 4}), y}}
  });
}
{
  const y = {type: 'category', position: 'left', offset: true,
    afterFit: s => { s.width = 10; },
    border: {display: true, color: '#909090', width: 1.5},
    grid: {offset: true, drawOnChartArea: false, tickLength: 4, color: '#909090'},
    ticks: {display: false}};
  const endLabels = {id: 'endLabels', afterDatasetsDraw(ch) {
    const g = ch.ctx;
    g.save();
    g.font = '22px "Liberation Sans"';
    g.fillStyle = '#000';
    g.textBaseline = 'middle';
    resTypes.forEach((t, i) => {
      if (!t) return;
      const px = ch.scales.x.getPixelForValue(resShare[i]);
      const left = Math.max(px + 5, ch.scales.x.getPixelForValue(.034));
      g.fillText(t, left, ch.scales.y.getPixelForValue(i) + 1);
    });
    g.restore();
  }};
  const c = addCanvas(1254.7, 89, 240, 430);
  new Chart(c, {
    type: 'bar',
    data: {labels: clusterLabels, datasets: [{data: resShare, backgroundColor: '#b1c6e8', barPercentage: .75, categoryPercentage: 1}]},
    plugins: [endLabels],
    options: {...baseOpts, indexAxis: 'y', layout: {padding: {left: 0, right: 21, top: 0, bottom: 24}},
      scales: {x: axis({min: 0, max: .6, ticks: shareTicks, labels: resShareLabels, size: 20, fit: 34, pad: 4, pos: 'top', color: '#909090', tl: 4}), y}}
  });
}
txt('Cluster Proportion', 1241, 63, 34);
txt('MigDC', 1142, 477, 34);
txt('ResDC', 1348, 477, 34);

// ---------- panel C ----------
const jitter = [-.6,.35,-.15,.7,-.4,.1,.55,-.75,.25,-.3];
const cGenes = [
  {name: 'Flt3', mig: flt3Mig, res: flt3Res, migDots: flt3MigDots, resDots: flt3ResDots, dashMig: true, dashRes: true, yt: [0,1,2,3], yl: ['0','1','2','3'], yMin: -.18, yMax: 3.4,
   box: {l: 115.6, r: 703, t: 527, b: 641.7}, x0: 140.3, x13: 677.5, labelY: 606.7},
  {name: 'Ly86', mig: ly86Mig, res: ly86Res, migDots: ly86MigDots, resDots: ly86ResDots, dashMig: true, yt: [-1,0,1,2,3], yl: ['-1','0','1','2','3'], yMin: -1, yMax: 3.35,
   box: {l: 115.6, r: 700.6, t: 656.7, b: 771}, x0: 139.5, x13: 677.5, labelY: 721.7},
  {name: 'Xcr1', mig: xcr1Mig, res: xcr1Res, migDots: xcr1MigDots, resDots: xcr1ResDots, yt: [-1,0,1,2], yl: ['-1','0','1','2'], yMin: -1.52, yMax: 2.85,
   box: {l: 115.6, r: 708.9, t: 789.3, b: 905}, x0: 140.3, x13: 684, labelY: 853.3},
  {name: 'Clec9a', mig: clec9aMig, res: clec9aRes, migDots: clec9aMigDots, resDots: clec9aResDots, yt: [-1,0,1,2], yl: ['-1','0','1','2'], yMin: -1.04, yMax: 2.69,
   box: {l: 115.6, r: 711.6, t: 919.3, b: 1035}, x0: 140.3, x13: 686, labelY: 983.3},
  {name: 'Sirpα', mig: sirpaMig, res: sirpaRes, migDots: sirpaMigDots, resDots: sirpaResDots, yt: [0,1,2,3], yl: ['0','1','2','3'], yMin: -.92, yMax: 3.26,
   box: {l: 114, r: 711.6, t: 1053.3, b: 1168.3}, x0: 138, x13: 685.7, labelY: 1116.7},
  {name: 'Irf4', mig: irf4Mig, res: irf4Res, migDots: irf4MigDots, resDots: irf4ResDots, yt: [0,.5,1,1.5,2], yl: ['0.0','0.5','1.0','1.5','2.0'], yMin: -.4, yMax: 2.41,
   box: {l: 112.8, r: 711.6, t: 1185.7, b: 1303.3}, x0: 138, x13: 685.7, labelY: 1245, last: true}
];
cGenes.forEach(g => {
  const ds = [];
  const addViolin = (knots, dotList, c, side, fillC, strokeC, dash) => {
    if (!knots) return;
    const single = c === 13;
    const cx = single ? c : c + side * .225, hw = single ? .45 : .225;
    ds.push(poly(violinPts(cx, knots, hw), fillC, strokeC, 1, knots.flat === undefined ? .18 : 0));
    const dashY = knots.flat !== undefined ? knots.flat : (dash && knots[0] <= 0 ? 0 : null);
    if (dashY !== null) ds.push(segment({x: cx - hw * .8, y: dashY}, {x: cx + hw * .8, y: dashY}, '#111', 2.5));
    // dense runs of cells: narrow ones are dashed so they read as separate cells
    (dotList || []).filter(d => Array.isArray(d)).forEach(b => ds.push(segment({x: cx, y: b[0]}, {x: cx, y: b[1]}, '#0c0c14', b[2], b[2] <= 7 ? [2,1.3] : null)));
    const pts = (dotList || []).filter(d => !Array.isArray(d)).map((v, i) => ({x: cx + jitter[i % jitter.length] * hw * .8, y: v}));
    if (pts.length) ds.push(dots(pts, '#000', 1.1));
  };
  clusterIds.forEach(c => {
    addViolin(g.mig[c], g.migDots[c], c, -1, '#6751c6', '#1c1a40', g.dashMig);
    addViolin(g.res[c], g.resDots[c], c, 1, '#c5e2fb', '#1c2a33', g.dashRes);
  });
  const dx = (g.x13 - g.x0) / 13;
  const x = axis({min: (g.box.l - g.x0) / dx, max: (g.box.r - g.x0) / dx, ticks: clusterIds, labels: g.last ? clusterLabels : null, size: 18, fit: g.last ? 36 : 6, pad: 6, pos: 'bottom', color: '#333', bw: 2, tl: 3});
  const y = axis({min: g.yMin, max: g.yMax, ticks: g.yt, labels: g.yl, size: 11.5, fit: 34, pad: 3, pos: 'left', color: '#444', bw: 1, tl: 3, tickColor: '#222'});
  plot(g.box, x, y, 34, g.last ? 36 : 6, ds);
  txt(g.name, 738, g.labelY, 34, {italic: true, left: true});
});
rect(739, 505, 18, 18, 'background:#6751c6;border:1px solid #444;');
rect(739, 527, 18, 18, 'background:#c5e2fb;border:1px solid #444;');
txt('MigDC', 766.7, 515, 20, {left: true});
txt('ResDC', 766.7, 537.7, 20, {left: true});
txt('Cluster', 429, 1361.7, 34);
txt('Expression', 61, 918.5, 34.6, {rot: -90});
arrow(64, 541.7, 573, 9, '#808080');
rect(63, 573, 1.5, 260, 'background:#808080;');
rect(63, 1010, 1.5, 288, 'background:#808080;');

// ---------- panel D ----------
const dGenes = [
  {name: 'Ccl22', expr: ccl22Expr, hot: hotCcl22, box: {l: 951.6, r: 1114.6, t: 626, b: 789.3}, tx: 1033.5, ty: 599},
  {name: 'Ccl5', expr: ccl5Expr, hot: hotCcl5, box: {l: 1125, r: 1289.2, t: 626, b: 789.3}, tx: 1209.4, ty: 599},
  {name: 'Cxcl16', expr: cxcl16Expr, hot: [], box: {l: 1298.8, r: 1463, t: 626, b: 789.3}, tx: 1382, ty: 599},
  {name: 'Ccr7', expr: ccr7Expr, hot: hotCcr7, box: {l: 953.7, r: 1119.1, t: 841.4, b: 1004.1}, tx: 1027.7, ty: 816.6},
  {name: 'Cd40', expr: cd40Expr, hot: [], box: {l: 1127.5, r: 1292.5, t: 841.4, b: 1004.1}, tx: 1213.5, ty: 816.6},
  {name: 'Tnfrsf4', expr: tnfrsf4Expr, hot: [], box: {l: 1299.6, r: 1464.3, t: 841.4, b: 1004.1}, tx: 1384, ty: 816.6},
  {name: 'Apol7c', expr: apol7cExpr, hot: [], box: {l: 956.2, r: 1122, t: 1067.8, b: 1230.4}, tx: 1033.5, ty: 1040},
  {name: 'Serpinb6b', expr: serpinExpr, hot: [], box: {l: 1130.4, r: 1295.9, t: 1067.8, b: 1230.4}, tx: 1218.5, ty: 1040},
  {name: 'AW112010', expr: aw112Expr, hot: hotAw112, box: {l: 1303.3, r: 1468, t: 1067.8, b: 1230.4}, tx: 1389.4, ty: 1040}
];
dGenes.forEach(g => {
  const ds = shapeOutlines.map((sh, i) => {
    const col = expColor(g.expr[shapeClusters[i]]);
    return poly(pairs(sh), col, col, 1, .25);
  });
  g.hot.forEach(h => {
    const col = expColor(h[h.length - 1]);
    ds.push(poly(pairs(h.slice(0, -1)), col, col, .5, .2));
  });
  clusterIds.forEach(c => {
    if (edgeCells[c].length) ds.push(dots(pairs(edgeCells[c]), expColor(g.expr[c]), 1));
    if (darkSpots[c].length) ds.push(dots(pairs(darkSpots[c]), expColor(g.expr[c] + 1.1), 1));
    if (paleSpots[c].length) ds.push(dots(pairs(paleSpots[c]), expColor(g.expr[c] - 1.2), 1));
    if (lightSpots[c].length) ds.push(dots(pairs(lightSpots[c]), expColor(g.expr[c] * .35), .9));
  });
  const x = axis({min: -16.15, max: 8.96, ticks: umapXTicks, fit: 4, pos: 'bottom', color: '#444', bw: 1.2, tl: 2});
  const y = axis({min: -12.26, max: 14.19, ticks: umapYTicks, fit: 4, pos: 'left', color: '#444', bw: 1.2, tl: 2});
  plot(g.box, x, y, 4, 4, ds);
  txt(g.name, g.tx, g.ty, 28, {italic: true});
});
txt('UMAP_2', 933, 1190.7, 20, {rot: -90});
txt('UMAP_1', 956.6, 1256, 20, {left: true});
{
  const c = addCanvas(1496, 600, 50, 144);
  new Chart(c, {
    type: 'bar',
    data: {labels: [''], datasets: colorLevels.map(v => ({data: [.25], backgroundColor: expColor(v + .125), barPercentage: 1, categoryPercentage: 1, stack: 'b'}))},
    options: {...baseOpts, layout: {padding: {top: 22.6, bottom: 22.7, left: 0, right: 0}},
      scales: {
        x: {display: false, stacked: true},
        y: {type: 'linear', stacked: true, position: 'right', min: 0, max: 6.13,
          afterBuildTicks: s => { s.ticks = colorTicks.map(v => ({value: v})); },
          afterFit: s => { s.width = 30; },
          border: {display: false}, grid: {drawOnChartArea: false, drawTicks: false},
          ticks: {font: {size: 15}, color: '#000', padding: 7, autoSkip: false, callback: v => String(v)}}
      }}
  });
}

// ---------- panel E ----------
const eFill = ['#cb2424','#ece9e8','#fda27d','#ece9e8','#fda27d','#fda27d','#fda27d','#fda27d','#fda27d'];
const eStroke = ['#6d1f1f','#777777','#5c5048','#777777','#5c5048','#5c5048','#5c5048','#5c5048','#5c5048'];
const eGenes = [
  {name: 'Cd1d1', v: cd1d1, yt: [0,1,2,3,4], yMin: -.35, yMax: 4.04, box: {l: 148.3, r: 614, t: 1400, b: 1500.7}, x0: 178.7, x8: 583.6, lx: 624, ly: 1456},
  {name: 'Car2', v: car2, yt: [0,1,2,3,4,5], yMin: -.26, yMax: 5.23, box: {l: 147.4, r: 612.6, t: 1511.7, b: 1612}, x0: 177.8, x8: 582.2, lx: 624, ly: 1566.7},
  {name: 'Gbp2', v: gbp2, yt: [0,1,2,3], yMin: -.16, yMax: 3.65, box: {l: 147.4, r: 611.7, t: 1624, b: 1724.3}, x0: 177.8, x8: 581, lx: 624, ly: 1678, last: true, pad: 8},
  {name: 'Ltb', v: ltb, yt: [-1,0,1,2,3], yMin: -1.6, yMax: 4, box: {l: 752.4, r: 1217.8, t: 1396.7, b: 1497}, x0: 782.6, x8: 1187.6, lx: 1248.6, ly: 1457},
  {name: 'Il1b', v: il1b, yt: [0,2,4], yMin: -1.2, yMax: 5.83, box: {l: 752.4, r: 1215, t: 1510, b: 1611.3}, x0: 782, x8: 1185, lx: 1248.6, ly: 1568},
  {name: 'Fcer1g', v: fcer1g, yt: [-1,0,1,2,3,4], yMin: -1.06, yMax: 4.87, box: {l: 752.4, r: 1213, t: 1622.7, b: 1723}, x0: 782, x8: 1182.8, lx: 1248.6, ly: 1680, last: true, pad: 6}
];
const eLabels = eClusters.map(String);
eGenes.forEach(g => {
  const ds = eClusters.map(c => poly(violinPts(c, g.v[c], .47), eFill[c], eStroke[c], 1, .2));
  const dx = (g.x8 - g.x0) / 8;
  const x = axis({min: (g.box.l - g.x0) / dx, max: (g.box.r - g.x0) / dx, ticks: eClusters, labels: g.last ? eLabels : null, size: 18, fit: g.last ? 36 : 5, pad: g.pad, pos: 'bottom', color: '#888', bw: 1.5, tl: 3});
  const y = axis({min: g.yMin, max: g.yMax, ticks: g.yt, labels: g.yt.map(String), size: 8, fit: 16, pad: 2, pos: 'left', color: '#555', bw: 1, tl: 2, tickColor: '#222'});
  plot(g.box, x, y, 16, g.last ? 36 : 5, ds);
  txt(g.name, g.lx, g.ly, 32, {italic: true, left: true});
});
txt('Cluster', 395, 1782.7, 34);
txt('Cluster', 1014, 1783, 34);
txt('Expression', 90, 1558, 34.6, {rot: -90});
arrow(94.4, 1400.7, 1434, 9.3, '#707070');
rect(93.7, 1434, 1.5, 36, 'background:#808080;');
rect(93.7, 1647, 1.5, 71, 'background:#808080;');
rect(1384.5, 1431.7, 24, 25, 'background:#cb2424;border:1.5px solid #444;');
rect(1384.5, 1460, 24, 23.5, 'background:#fda27d;border:1.5px solid #444;');
rect(1384.5, 1486.7, 24, 23.5, 'background:#ece9e8;border:1.5px solid #444;');
txt('migDC2', 1417, 1442.7, 25.5, {left: true, color: '#e60000'});
txt('resDC2', 1417, 1471.7, 25.5, {left: true, color: '#ff6a3d'});
txt('migDC1(C1)', 1417, 1501, 25.5, {left: true, color: '#555'});
txt('resDC1(C3)', 1417, 1531, 25.5, {left: true, color: '#555'});
</script>
</body>
</html>
